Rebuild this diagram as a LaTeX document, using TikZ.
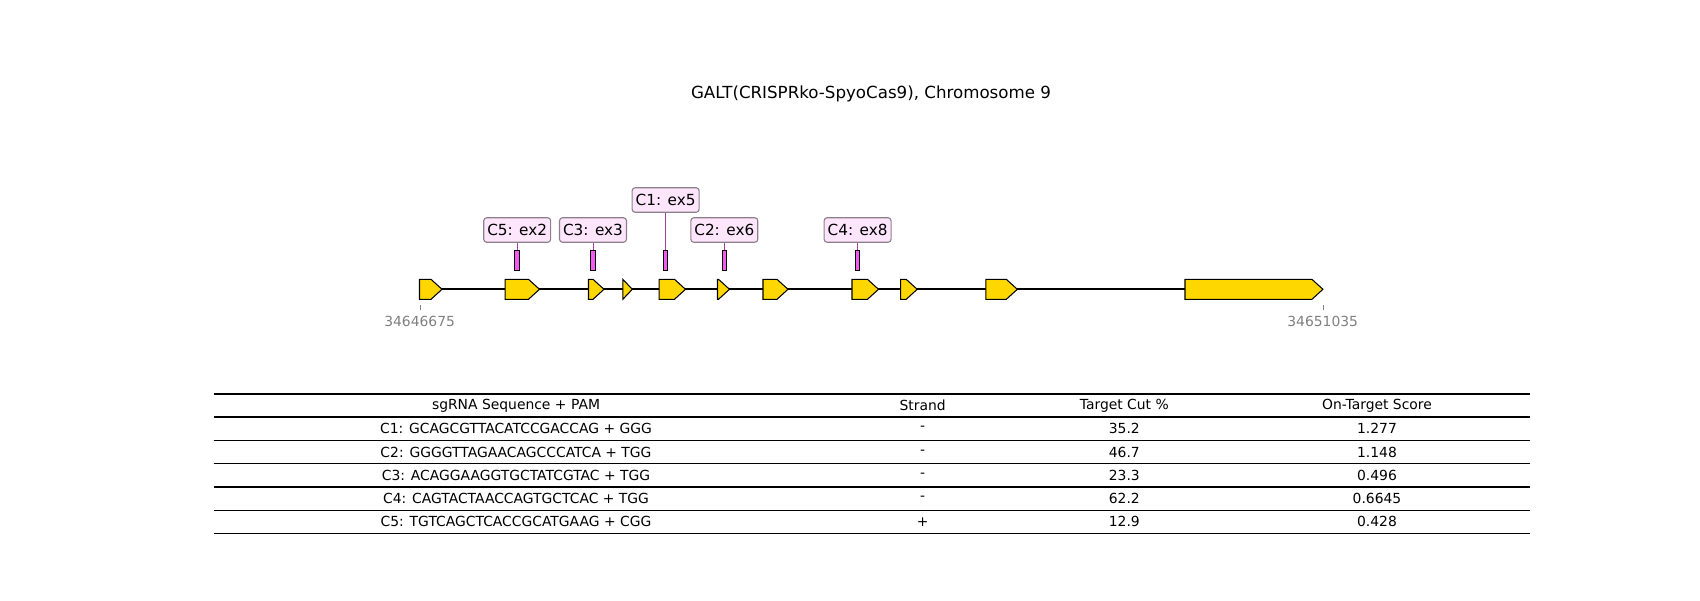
\documentclass[tikz,border=0pt]{standalone}
\usepackage{fontspec}
\setmainfont{DejaVu Sans}
\definecolor{exonfill}{HTML}{FFD700}
\definecolor{markfill}{HTML}{F25AF2}
\definecolor{linkcol}{HTML}{A23FA2}
\definecolor{boxfill}{HTML}{FDE5FB}
\definecolor{boxedge}{HTML}{8C808C}
\definecolor{tickgray}{HTML}{808080}
\tikzset{
  exon/.style={draw=black, fill=exonfill, line width=0.75pt, line join=miter},
  backbone/.style={draw=black, line width=1.4pt},
  marker/.style={draw=black, fill=markfill, line width=0.7pt, minimum width=3.2pt, minimum height=14.4pt, inner sep=0pt},
  guidelabel/.style={draw=boxedge, fill=boxfill, rounded corners=2.2pt, line width=0.8pt, font=\fontsize{11}{13}\selectfont, minimum width=48.2pt, minimum height=17.7pt, inner sep=0pt},
  link/.style={draw=linkcol, line width=0.6pt},
  tick/.style={draw=tickgray, line width=0.6pt},
  ticklabel/.style={text=tickgray, font=\fontsize{10}{12}\selectfont, inner sep=0pt},
  rule/.style={draw=black, line width=1pt},
  cell/.style={font=\fontsize{10}{12}\selectfont, inner sep=0pt, anchor=center},
  titletext/.style={font=\fontsize{12}{14}\selectfont, inner sep=0pt}
}
\begin{document}
\begin{tikzpicture}[x=0.72pt, y=-0.72pt]
\useasboundingbox (0,0) rectangle (1700,600);
% title
\node[titletext] (title) at (871,93.5) {GALT(CRISPRko-SpyoCas9), Chromosome 9};
% backbone
\coordinate (bbL) at (419.5,289.3);
\coordinate (bbR) at (1322.9,289.3);
\draw[backbone] (bbL) -- (bbR);
% exons
\foreach \a/\b in {419.5/442, 505.2/539.5, 588.5/604, 622.8/632.3, 659.2/685.5, 717.5/729.5, 763/788, 852/878.5, 900.6/917.2, 985.8/1017.3, 1185/1322.9}{
  \pgfmathsetmacro{\h}{min(11,\b-\a)}
  \pgfmathsetmacro{\f}{\b-\h}
  \draw[exon] (\a,279.3) -- (\f,279.3) -- (\b,289.3) -- (\f,299.3) -- (\a,299.3) -- cycle;
}
% markers
\node[marker] (m5) at (517.2,260) {};
\node[marker] (m3) at (593,260) {};
\node[marker] (m1) at (665.6,260) {};
\node[marker] (m2) at (724.3,260) {};
\node[marker] (m4) at (857.6,260) {};
% labels
\node[guidelabel] (l5) at (517.2,230) {C5: ex2};
\node[guidelabel] (l3) at (593,230) {C3: ex3};
\node[guidelabel] (l1) at (665.6,200) {C1: ex5};
\node[guidelabel] (l2) at (724.3,230) {C2: ex6};
\node[guidelabel] (l4) at (857.6,230) {C4: ex8};
\foreach \n in {1,...,5}{
  \draw[link] (m\n.north) -- (l\n.south);
}
% ticks
\coordinate (t1a) at (420.5,305);
\coordinate (t1b) at (420.5,310);
\coordinate (t2a) at (1323,305);
\coordinate (t2b) at (1323,310);
\draw[tick] (t1a) -- (t1b);
\draw[tick] (t2a) -- (t2b);
\node[ticklabel] (tl1) at (419.6,321.5) {34646675};
\node[ticklabel] (tl2) at (1322.7,321.5) {34651035};
% table rules
\foreach \i/\y in {0/393.8, 1/417.1, 2/440.4, 3/463.7, 4/487.0, 5/510.3, 6/533.6}{
  \coordinate (r\i L) at (213.6,\y);
  \coordinate (r\i R) at (1530,\y);
  \draw[rule] (r\i L) -- (r\i R);
}
% table text
\foreach \y/\s/\t/\c/\o in {
  405.4/{sgRNA Sequence + PAM}/{Strand}/{Target Cut \%}/{On-Target Score},
  428.7/{C1: GCAGCGTTACATCCGACCAG + GGG}/{-}/{35.2}/{1.277},
  452.0/{C2: GGGGTTAGAACAGCCCATCA + TGG}/{-}/{46.7}/{1.148},
  475.3/{C3: ACAGGAAGGTGCTATCGTAC + TGG}/{-}/{23.3}/{0.496},
  498.6/{C4: CAGTACTAACCAGTGCTCAC + TGG}/{-}/{62.2}/{0.6645},
  521.9/{C5: TGTCAGCTCACCGCATGAAG + CGG}/{+}/{12.9}/{0.428}}{
  \node[cell] at (516,\y) {\s};
  \node[cell] at (922.7,\y) {\t};
  \node[cell] at (1124.3,\y) {\c};
  \node[cell] at (1377,\y) {\o};
}
\end{tikzpicture}
\end{document}
